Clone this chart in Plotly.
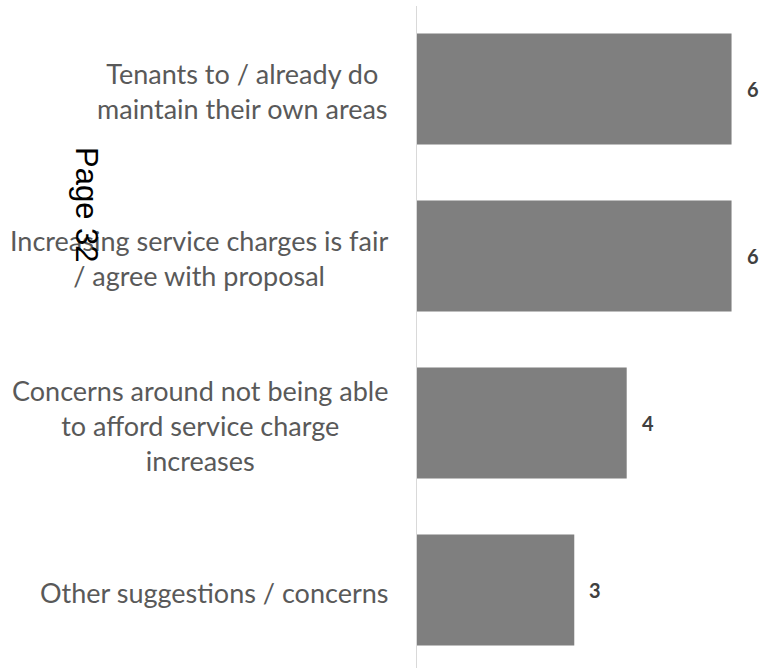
import plotly.graph_objects as go

categories = [
    "Tenants to / already do<br>maintain their own areas",
    "Increasing service charges is fair<br>/ agree with proposal",
    "Concerns around not being able<br>to afford service charge<br>increases",
    "Other suggestions / concerns",
]
counts = [6, 6, 4, 3]
positions = list(range(len(categories)))

BAR = "#7f7f7f"
LABEL = "#595959"
VALUE = "#404040"

fig = go.Figure(
    go.Bar(
        y=positions,
        x=counts,
        orientation="h",
        marker=dict(color=BAR, line=dict(width=0)),
        width=0.665,
        hoverinfo="skip",
    )
)

# value labels to the right of each bar
for p, v in zip(positions, counts):
    fig.add_annotation(
        x=v, y=p, xref="x", yref="y", text=f"<b>{v}</b>",
        showarrow=False, xanchor="left", xshift=13,
        font=dict(family="Lato", size=20, color=VALUE),
    )

# category labels, centred text blocks right-aligned to the axis
for p, c in zip(positions, categories):
    fig.add_annotation(
        x=0, y=p, xref="paper", yref="y", text=c,
        showarrow=False, xanchor="right", xshift=-27, align="center",
        yshift=-2,
        font=dict(family="Lato", size=27, color=LABEL),
    )

fig.update_layout(
    width=763, height=668,
    margin=dict(l=417, r=0, t=6, b=0),
    paper_bgcolor="white", plot_bgcolor="white",
    showlegend=False,
    xaxis=dict(range=[0, 6.6], visible=False, fixedrange=True),
    yaxis=dict(
        range=[3.467, -0.497], showticklabels=False, ticks="",
        showgrid=False, zeroline=False, showline=True,
        linecolor="#d9d9d9", linewidth=1, fixedrange=True,
    ),
)

# rotated page marker, placed in pixel terms relative to the plot area
plot_left, plot_w = 417, 763 - 417
plot_top, plot_h = 6, 668 - 6
fig.add_annotation(
    x=(87 - plot_left) / plot_w,
    y=1 - (205 - plot_top) / plot_h,
    xref="x domain", yref="y domain",
    xanchor="center", yanchor="middle",
    text="Page 32", showarrow=False, textangle=90,
    font=dict(family="Liberation Sans", size=31, color="#000000"),
)

fig.write_html("out.html")
